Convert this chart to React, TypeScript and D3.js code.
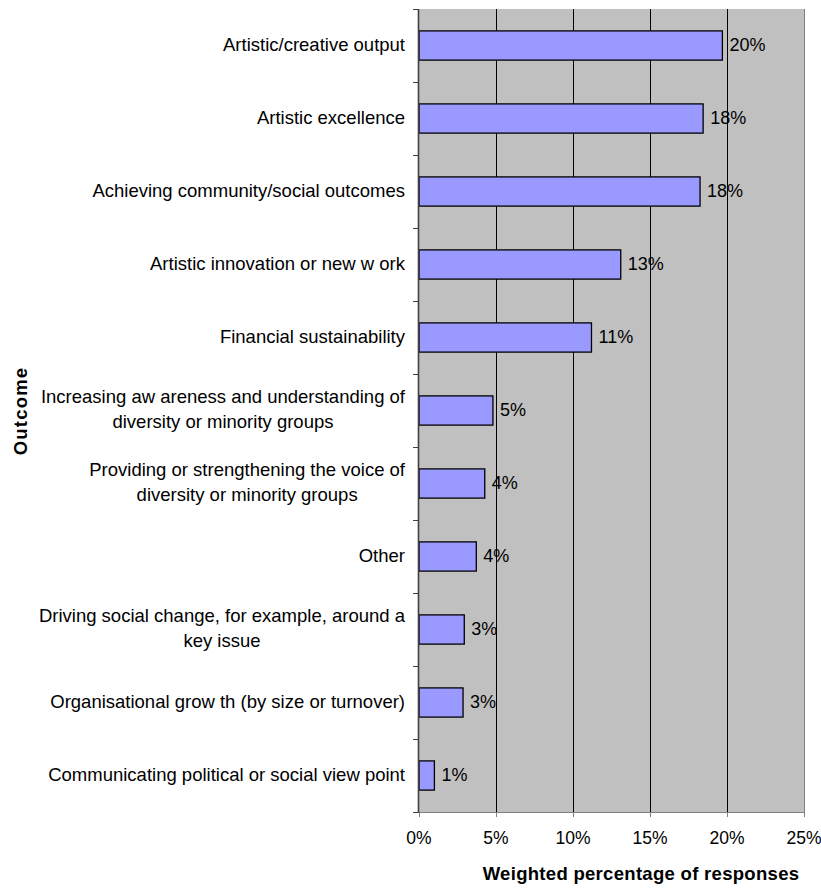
import React, { useEffect, useRef } from "react";
import * as d3 from "d3";

const categories = [
  "Artistic/creative output",
  "Artistic excellence",
  "Achieving community/social outcomes",
  "Artistic innovation or new w ork",
  "Financial sustainability",
  "Increasing aw areness and understanding of\ndiversity or minority groups",
  "Providing or strengthening the voice of\ndiversity or minority groups",
  "Other",
  "Driving social change, for example, around a\nkey issue",
  "Organisational grow th (by size or turnover)",
  "Communicating political or social view point",
];
const values = [19.7, 18.45, 18.25, 13.1, 11.2, 4.8, 4.27, 3.72, 2.94, 2.86, 1.0];
const xTicks = [0, 5, 10, 15, 20, 25];
const xTitle = "Weighted percentage of responses";
const yTitle = "Outcome";

const FONT = "'Liberation Sans', Arial, sans-serif";

export default function App() {
  const ref = useRef<SVGSVGElement>(null);
  useEffect(() => {
    document.body.style.margin = "0";
    const svg = d3.select(ref.current);
    svg.selectAll("*").remove();
    const left = 419, right = 804, top = 9, bottom = 812;
    const x = d3.scaleLinear().domain([0, 25]).range([left, right]);
    const y = d3.scaleBand<string>().domain(categories).range([top, bottom]).paddingInner(0.6).paddingOuter(0.3);
    const step = y.step();

    svg.append("rect").attr("x", left).attr("y", top).attr("width", right - left).attr("height", bottom - top).attr("fill", "#C0C0C0");

    svg.append("g").selectAll("line").data(xTicks.slice(1, -1)).join("line")
      .attr("x1", (d) => Math.round(x(d)) + 0.5).attr("x2", (d) => Math.round(x(d)) + 0.5)
      .attr("y1", top).attr("y2", bottom).attr("stroke", "#000").attr("stroke-width", 1);

    svg.append("line").attr("x1", right + 0.5).attr("x2", right + 0.5).attr("y1", top).attr("y2", bottom)
      .attr("stroke", "#808080").attr("stroke-width", 1);

    // bars
    svg.append("g").selectAll("rect").data(values).join("rect")
      .attr("x", left).attr("y", (d, i) => y(categories[i])!)
      .attr("width", (d) => x(d) - left).attr("height", y.bandwidth())
      .attr("fill", "#9999FF").attr("stroke", "#000").attr("stroke-width", 1.3);

    // value labels
    svg.append("g").selectAll("text").data(values).join("text")
      .attr("x", (d) => x(d) + 7)
      .attr("y", (d, i) => y(categories[i])! + y.bandwidth() / 2 + 5)
      .attr("font-family", FONT).attr("font-size", 18).attr("fill", "#000")
      .text((d) => `${Math.round(d)}%`);

    // bottom axis
    svg.append("line").attr("x1", left).attr("x2", right + 1).attr("y1", bottom + 0.5).attr("y2", bottom + 0.5)
      .attr("stroke", "#808080").attr("stroke-width", 1);
    svg.append("g").selectAll("line").data(xTicks).join("line")
      .attr("x1", (d) => Math.round(x(d)) + 0.5).attr("x2", (d) => Math.round(x(d)) + 0.5)
      .attr("y1", bottom).attr("y2", bottom + 5).attr("stroke", "#808080");
    svg.append("g").selectAll("text").data(xTicks).join("text")
      .attr("x", (d) => x(d)).attr("y", 844).attr("text-anchor", "middle")
      .attr("font-family", FONT).attr("font-size", 17.5).attr("fill", "#000")
      .text((d) => `${d}%`);

    // left axis
    const bounds = d3.range(categories.length + 1).map((i) => top + i * step);
    svg.append("g").selectAll("line").data(bounds).join("line")
      .attr("x1", left - 6).attr("x2", left).attr("y1", (d) => Math.round(d) + 0.5).attr("y2", (d) => Math.round(d) + 0.5)
      .attr("stroke", "#404040");
    svg.append("line").attr("x1", left - 0.5).attr("x2", left - 0.5).attr("y1", top).attr("y2", bottom + 1)
      .attr("stroke", "#404040").attr("stroke-width", 1.6);

    // category labels
    const lineH = 24.5;
    categories.forEach((c) => {
      const lines = c.split("\n");
      const cy = y(c)! + y.bandwidth() / 2 + 5;
      const g = svg.append("g");
      const texts = lines.map((ln, j) =>
        g.append("text")
          .attr("y", cy + (j - (lines.length - 1) / 2) * lineH)
          .attr("font-family", FONT).attr("font-size", 18.5).attr("fill", "#000")
          .attr("text-anchor", "middle")
          .text(ln)
      );
      const w = Math.max(...texts.map((t) => (t.node() as SVGTextElement).getComputedTextLength()));
      texts.forEach((t) => t.attr("x", 405 - w / 2));
    });

    // titles
    svg.append("text").attr("x", 641).attr("y", 880).attr("text-anchor", "middle")
      .attr("font-family", FONT).attr("font-size", 18.5).attr("font-weight", "bold")
      .attr("letter-spacing", 0.3).text(xTitle);
    svg.append("text").attr("transform", "translate(27,411) rotate(-90)").attr("text-anchor", "middle")
      .attr("font-family", FONT).attr("font-size", 18.5).attr("font-weight", "bold")
      .attr("letter-spacing", 1.2).text(yTitle);
  }, []);
  return <svg ref={ref} width={821} height={888} style={{ display: "block" }} />;
}
